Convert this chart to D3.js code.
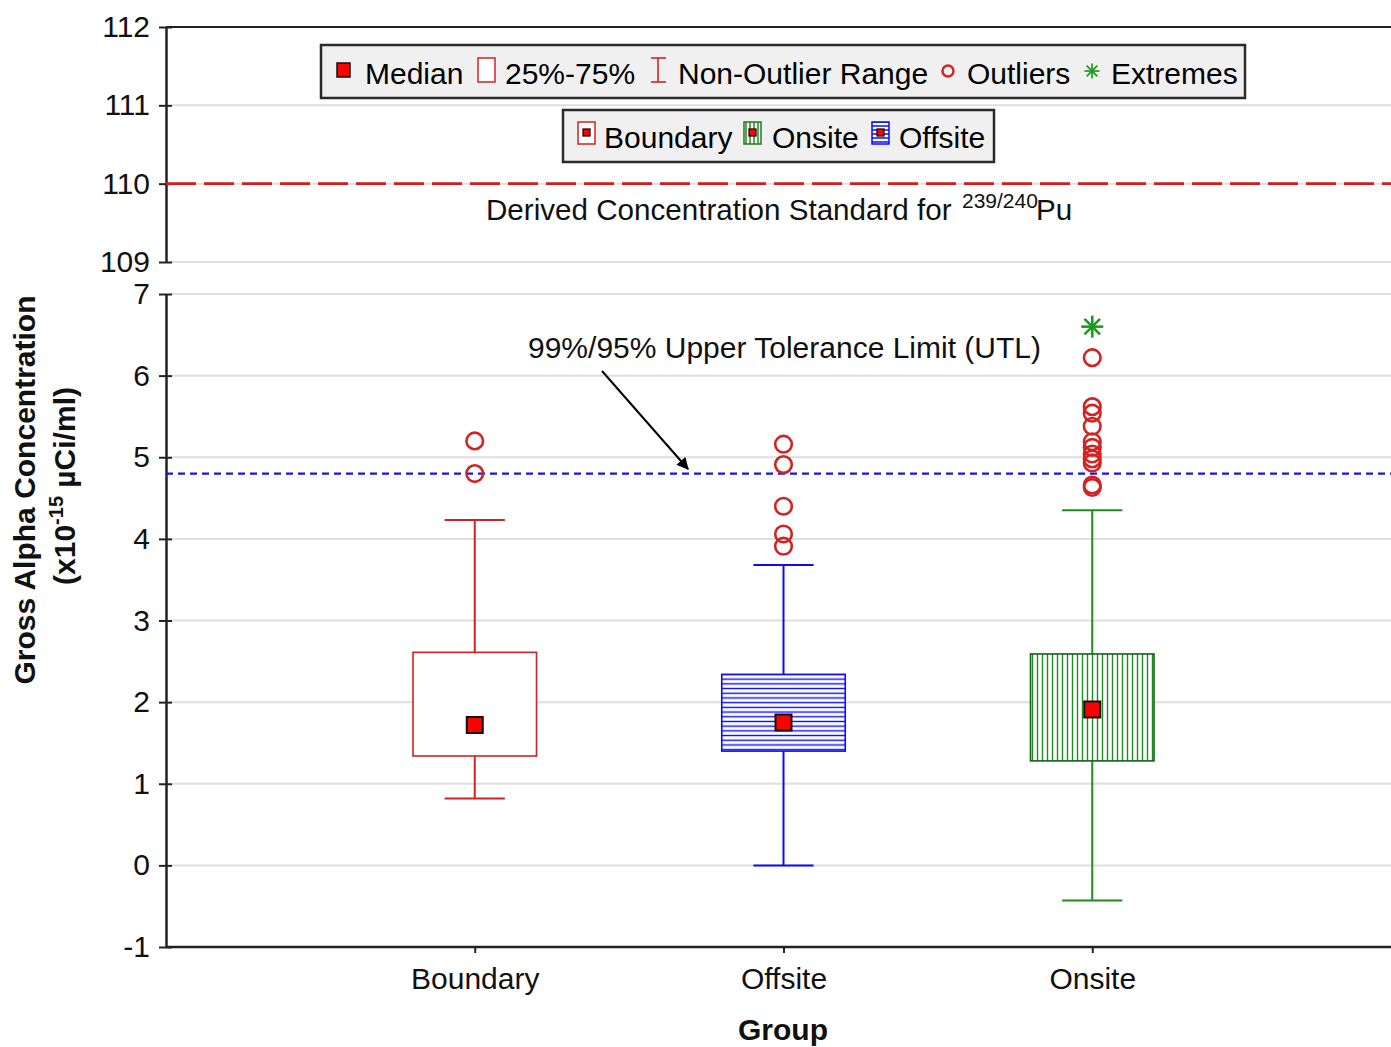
<!DOCTYPE html>
<html><head><meta charset="utf-8">
<script src="https://cdn.jsdelivr.net/npm/d3@7"></script>
<style>
body{margin:0;background:#fff}
svg{display:block;font-family:"Liberation Sans",Arial,sans-serif}
</style>
</head><body>
<svg id="chart" width="1391" height="1047"></svg>
<script>
// Box-plot summaries per monitoring group (x10^-15 µCi/ml)
const groups = ["Boundary", "Offsite", "Onsite"];
const q1 = [1.34, 1.40, 1.28];
const medians = [1.72, 1.75, 1.91];
const q3 = [2.61, 2.34, 2.59];
const whiskerLow = [0.82, 0.00, -0.43];
const whiskerHigh = [4.23, 3.68, 4.35];
const outliersBoundary = [5.20, 4.80];
const outliersOffsite = [5.16, 4.91, 4.40, 4.06, 3.91];
const outliersOnsite = [6.22, 5.62, 5.54, 5.38, 5.19, 5.12, 5.04, 4.98, 4.93, 4.66, 4.63];
const extremesOnsite = [6.60];
const utlValue = 4.80;      // 99%/95% upper tolerance limit
const dcsValue = 110;       // derived concentration standard
const lowerTicks = [-1, 0, 1, 2, 3, 4, 5, 6, 7];
const upperTicks = [109, 110, 111, 112];

const outliers = [outliersBoundary, outliersOffsite, outliersOnsite];
const extremes = [[], [], extremesOnsite];
const groupColor = {Boundary: "#d42222", Offsite: "#0a0aff", Onsite: "#1e8c1e"};
const groupFill = {Boundary: "#ffffff", Offsite: "url(#hatchH)", Onsite: "url(#hatchV)"};
const boxStroke = {Boundary: "#d42222", Offsite: "#0a0aff", Onsite: "#17601a"};

const W = 1391, H = 1047;
const plotLeft = 166, plotRight = 1401;
const svg = d3.select("#chart");
const FS = 30;
const fmt = d => String(d);   // plain hyphen for negatives

const x = d3.scalePoint().domain(groups).range([plotLeft, plotRight]).padding(1);
const step = x.step();
const yLow = d3.scaleLinear().domain([-1, 7]).range([947, 294]);
const yUp = d3.scaleLinear().domain([109, 112]).range([262, 27]);

// hatch patterns
const defs = svg.append("defs");
function hatch(id, vertical, size, color, sw) {
  const p = defs.append("pattern").attr("id", id).attr("patternUnits", "userSpaceOnUse")
    .attr("width", vertical ? size : 10).attr("height", vertical ? 10 : size);
  p.append("rect").attr("width", vertical ? size : 10).attr("height", vertical ? 10 : size).attr("fill", "#fff");
  if (vertical) p.append("line").attr("x1", size / 2).attr("x2", size / 2).attr("y1", 0).attr("y2", 10)
    .attr("stroke", color).attr("stroke-width", sw);
  else p.append("line").attr("y1", size / 2).attr("y2", size / 2).attr("x1", 0).attr("x2", 10)
    .attr("stroke", color).attr("stroke-width", sw);
}
hatch("hatchV", true, 5, "#1e8c1e", 1.4);
hatch("hatchH", false, 4.7, "#0a0aff", 1.4);
hatch("hatchVs", true, 4, "#1e8c1e", 1.5);
hatch("hatchHs", false, 4, "#0a0aff", 1.5);
defs.append("marker").attr("id", "arrowHead").attr("viewBox", "0 0 10 10")
  .attr("refX", 9).attr("refY", 5).attr("markerWidth", 15).attr("markerHeight", 12)
  .attr("markerUnits", "userSpaceOnUse").attr("orient", "auto")
  .append("path").attr("d", "M0,0 L10,5 L0,10 Z").attr("fill", "#000");

// grid lines
const grid = svg.append("g");
grid.selectAll(".gl").data(lowerTicks.filter(d => d > -1)).join("line")
  .attr("x1", plotLeft + 6).attr("x2", W).attr("y1", d => yLow(d)).attr("y2", d => yLow(d))
  .attr("stroke", "#dedede").attr("stroke-width", 2);
grid.selectAll(".gu").data(upperTicks.filter(d => d < 112)).join("line")
  .attr("x1", plotLeft + 6).attr("x2", W).attr("y1", d => yUp(d)).attr("y2", d => yUp(d))
  .attr("stroke", "#dedede").attr("stroke-width", 2);

// frame lines (top and bottom)
svg.append("line").attr("x1", plotLeft).attr("x2", W).attr("y1", yUp(112)).attr("y2", yUp(112))
  .attr("stroke", "#222").attr("stroke-width", 2);
svg.append("line").attr("x1", plotLeft).attr("x2", W).attr("y1", yLow(-1)).attr("y2", yLow(-1))
  .attr("stroke", "#222").attr("stroke-width", 2.5);

// left axes (two panels)
function styleAxis(g) {
  g.select(".domain").attr("stroke", "#222").attr("stroke-width", 2.5);
  g.selectAll(".tick line").attr("stroke", "#222").attr("stroke-width", 2);
  g.selectAll(".tick").append("line").attr("x1", 0).attr("x2", 6)
    .attr("stroke", "#222").attr("stroke-width", 2);
  g.selectAll(".tick text").attr("font-size", FS).attr("fill", "#111")
    .attr("font-family", '"Liberation Sans",Arial,sans-serif');
}
svg.append("g").attr("transform", `translate(${plotLeft},0)`)
  .call(d3.axisLeft(yLow).tickValues(lowerTicks).tickSize(7).tickSizeOuter(0).tickPadding(9).tickFormat(fmt))
  .call(styleAxis);
svg.append("g").attr("transform", `translate(${plotLeft},0)`)
  .call(d3.axisLeft(yUp).tickValues(upperTicks).tickSize(7).tickSizeOuter(0).tickPadding(9).tickFormat(fmt))
  .call(styleAxis);

// bottom axis
const xa = svg.append("g").attr("transform", `translate(0,${yLow(-1)})`)
  .call(d3.axisBottom(x).tickSize(6).tickSizeOuter(0).tickPadding(15));
xa.select(".domain").remove();
xa.selectAll(".tick line").attr("stroke", "#222").attr("stroke-width", 2);
xa.selectAll(".tick text").attr("font-size", FS).attr("fill", "#111")
  .attr("font-family", '"Liberation Sans",Arial,sans-serif');

// reference lines
svg.append("line").attr("x1", plotLeft).attr("x2", W).attr("y1", yUp(dcsValue)).attr("y2", yUp(dcsValue))
  .attr("stroke", "#d41c1c").attr("stroke-width", 2.6).attr("stroke-dasharray", "30,8");
svg.append("line").attr("x1", plotLeft).attr("x2", W).attr("y1", yLow(utlValue)).attr("y2", yLow(utlValue))
  .attr("stroke", "#1414f0").attr("stroke-width", 2.2).attr("stroke-dasharray", "7,5");

// box plots
const boxW = step * 0.4, capW = step * 0.195, medS = 16;
groups.forEach((g, i) => {
  const cx = x(g), col = groupColor[g];
  const gg = svg.append("g");
  gg.append("line").attr("x1", cx).attr("x2", cx).attr("y1", yLow(whiskerLow[i])).attr("y2", yLow(whiskerHigh[i]))
    .attr("stroke", col).attr("stroke-width", 2);
  [whiskerLow[i], whiskerHigh[i]].forEach(v => {
    gg.append("line").attr("x1", cx - capW / 2).attr("x2", cx + capW / 2)
      .attr("y1", yLow(v)).attr("y2", yLow(v)).attr("stroke", col).attr("stroke-width", 2);
  });
  gg.append("rect").attr("x", cx - boxW / 2).attr("width", boxW)
    .attr("y", yLow(q3[i])).attr("height", yLow(q1[i]) - yLow(q3[i]))
    .attr("fill", groupFill[g]).attr("stroke", boxStroke[g]).attr("stroke-width", 1.6);
  gg.append("rect").attr("x", cx - medS / 2).attr("y", yLow(medians[i]) - medS / 2)
    .attr("width", medS).attr("height", medS).attr("fill", "#ff0000")
    .attr("stroke", "#111").attr("stroke-width", 2);
  gg.selectAll(".out").data(outliers[i]).join("circle")
    .attr("cx", cx).attr("cy", d => yLow(d)).attr("r", 8.3)
    .attr("fill", "none").attr("stroke", "#d42222").attr("stroke-width", 2.6);
  extremes[i].forEach(v => {
    const ey = yLow(v), r = 11;
    [0, 45, 90, 135].forEach(a => {
      const rad = a * Math.PI / 180;
      gg.append("line").attr("x1", cx - r * Math.cos(rad)).attr("x2", cx + r * Math.cos(rad))
        .attr("y1", ey - r * Math.sin(rad)).attr("y2", ey + r * Math.sin(rad))
        .attr("stroke", "#1e9a1e").attr("stroke-width", 2.6);
    });
  });
});

// DCS label
const dcs = svg.append("text").attr("x", 486).attr("y", 220).attr("font-size", 29.6).attr("fill", "#111");
dcs.append("tspan").text("Derived Concentration Standard for");
dcs.append("tspan").attr("x", 962).attr("font-size", 21).attr("dy", -12).text("239/240");
dcs.append("tspan").attr("x", 1036).attr("dy", 12).text("Pu");

// UTL annotation with arrow
svg.append("text").attr("x", 528).attr("y", 358).attr("font-size", FS).attr("fill", "#111")
  .text("99%/95% Upper Tolerance Limit (UTL)");
svg.append("line").attr("x1", 602).attr("y1", 371).attr("x2", 688).attr("y2", 469)
  .attr("stroke", "#000").attr("stroke-width", 2).attr("marker-end", "url(#arrowHead)");

// legend 1: box-plot symbols
const lg1 = svg.append("g");
lg1.append("rect").attr("x", 321).attr("y", 45).attr("width", 924).attr("height", 53)
  .attr("fill", "#f0f0f0").attr("stroke", "#2a2a2a").attr("stroke-width", 2.5);
const ly = 71, lb = 84;
lg1.append("rect").attr("x", 337).attr("y", 63).attr("width", 13).attr("height", 14)
  .attr("fill", "#ff0000").attr("stroke", "#111").attr("stroke-width", 1.5);
lg1.append("text").attr("x", 365).attr("y", lb).attr("font-size", FS).text("Median");
lg1.append("rect").attr("x", 478).attr("y", 58).attr("width", 17).attr("height", 24)
  .attr("fill", "#fff").attr("stroke", "#d42222").attr("stroke-width", 1.5);
lg1.append("text").attr("x", 505).attr("y", lb).attr("font-size", FS).text("25%-75%");
[[658, 58, 658, 82], [651, 58, 666, 58], [651, 82, 666, 82]].forEach(c => {
  lg1.append("line").attr("x1", c[0]).attr("y1", c[1]).attr("x2", c[2]).attr("y2", c[3])
    .attr("stroke", "#d42222").attr("stroke-width", 1.6);
});
lg1.append("text").attr("x", 678).attr("y", lb).attr("font-size", FS).text("Non-Outlier Range");
lg1.append("circle").attr("cx", 948).attr("cy", ly).attr("r", 5.5)
  .attr("fill", "none").attr("stroke", "#d42222").attr("stroke-width", 2.4);
lg1.append("text").attr("x", 967).attr("y", lb).attr("font-size", FS).text("Outliers");
[0, 45, 90, 135].forEach(a => {
  const rad = a * Math.PI / 180, r = 7.5;
  lg1.append("line").attr("x1", 1092 - r * Math.cos(rad)).attr("x2", 1092 + r * Math.cos(rad))
    .attr("y1", ly - r * Math.sin(rad)).attr("y2", ly + r * Math.sin(rad))
    .attr("stroke", "#1e9a1e").attr("stroke-width", 1.7);
});
lg1.append("text").attr("x", 1111).attr("y", lb).attr("font-size", FS).text("Extremes");

// legend 2: groups
const lg2 = svg.append("g");
lg2.append("rect").attr("x", 563).attr("y", 110).attr("width", 431).attr("height", 52)
  .attr("fill", "#f0f0f0").attr("stroke", "#2a2a2a").attr("stroke-width", 2.5);
const icons = [
  {g: "Boundary", x: 578, tx: 604, fill: "#fff"},
  {g: "Onsite", x: 744, tx: 772, fill: "url(#hatchVs)"},
  {g: "Offsite", x: 872, tx: 899, fill: "url(#hatchHs)"}
];
icons.forEach(d => {
  lg2.append("rect").attr("x", d.x).attr("y", 122).attr("width", 17).attr("height", 22)
    .attr("fill", d.fill).attr("stroke", d.g === "Onsite" ? "#1e7a1e" : boxStroke[d.g])
    .attr("stroke-width", 1.5);
  lg2.append("rect").attr("x", d.x + 5).attr("y", 129).attr("width", 7).attr("height", 7)
    .attr("fill", "#ff0000").attr("stroke", "#111").attr("stroke-width", 1.3);
  lg2.append("text").attr("x", d.tx).attr("y", 148).attr("font-size", FS).text(d.g);
});

// axis titles
svg.append("text").attr("x", 783).attr("y", 1040).attr("text-anchor", "middle")
  .attr("font-size", FS).attr("font-weight", "bold").attr("fill", "#111").text("Group");
svg.append("text").attr("transform", "translate(35,490) rotate(-90)").attr("text-anchor", "middle")
  .attr("font-size", FS).attr("font-weight", "bold").attr("fill", "#111").text("Gross Alpha Concentration");
const yt2 = svg.append("text").attr("transform", "translate(75,486) rotate(-90)").attr("text-anchor", "middle")
  .attr("font-size", FS).attr("font-weight", "bold").attr("fill", "#111");
yt2.append("tspan").text("(x10");
yt2.append("tspan").attr("font-size", 20).attr("dy", -12).text("-15");
yt2.append("tspan").attr("dy", 12).text(" \u00b5Ci/ml)");
</script>
</body></html>
